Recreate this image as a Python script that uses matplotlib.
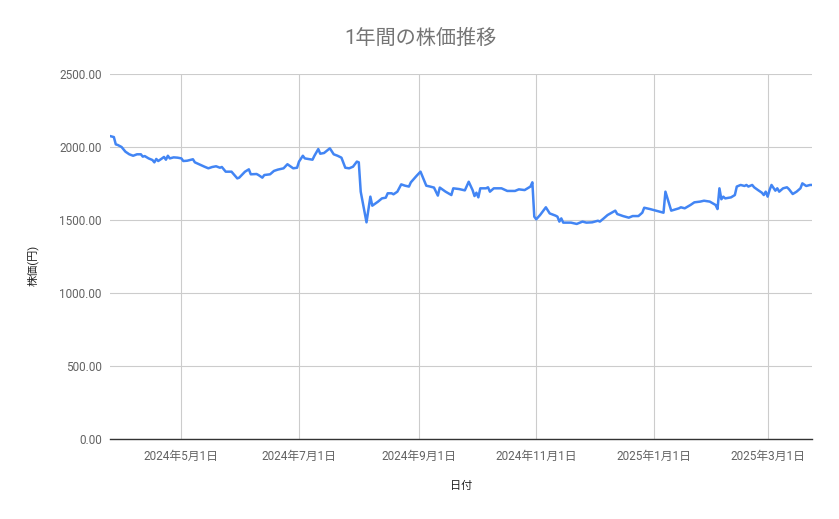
import matplotlib
matplotlib.use("Agg")
import matplotlib.pyplot as plt
import pandas as pd

plt.rcParams['font.family'] = ['Roboto', 'Noto Sans CJK JP', 'DejaVu Sans']

# ============================
#   データ
# ============================

dates = [
    "2024-03-25", "2024-03-27", "2024-03-28", "2024-03-29", "2024-03-31",
    "2024-04-02", "2024-04-04", "2024-04-06", "2024-04-08", "2024-04-10",
    "2024-04-11", "2024-04-12", "2024-04-14", "2024-04-16", "2024-04-17",
    "2024-04-18", "2024-04-19", "2024-04-21", "2024-04-22", "2024-04-23",
    "2024-04-24", "2024-04-25", "2024-04-27", "2024-04-29", "2024-05-01",
    "2024-05-02", "2024-05-04", "2024-05-07", "2024-05-08", "2024-05-11",
    "2024-05-13", "2024-05-15", "2024-05-17", "2024-05-19", "2024-05-21",
    "2024-05-22", "2024-05-24", "2024-05-27", "2024-05-30", "2024-05-31",
    "2024-06-03", "2024-06-05", "2024-06-06", "2024-06-09", "2024-06-10",
    "2024-06-12", "2024-06-13", "2024-06-16", "2024-06-18", "2024-06-20",
    "2024-06-23", "2024-06-25", "2024-06-28", "2024-06-30", "2024-07-01",
    "2024-07-03", "2024-07-04", "2024-07-08", "2024-07-09", "2024-07-11",
    "2024-07-12", "2024-07-14", "2024-07-17", "2024-07-19", "2024-07-21",
    "2024-07-23", "2024-07-25", "2024-07-27", "2024-07-29", "2024-07-31",
    "2024-08-01", "2024-08-02", "2024-08-05", "2024-08-07", "2024-08-08",
    "2024-08-11", "2024-08-13", "2024-08-15", "2024-08-16", "2024-08-18",
    "2024-08-19", "2024-08-21", "2024-08-23", "2024-08-25", "2024-08-27",
    "2024-08-28", "2024-08-31", "2024-09-02", "2024-09-05", "2024-09-07",
    "2024-09-09", "2024-09-11", "2024-09-12", "2024-09-15", "2024-09-18",
    "2024-09-19", "2024-09-22", "2024-09-25", "2024-09-27", "2024-09-29",
    "2024-09-30", "2024-10-01", "2024-10-02", "2024-10-03", "2024-10-06",
    "2024-10-07", "2024-10-08", "2024-10-10", "2024-10-14", "2024-10-17",
    "2024-10-21", "2024-10-23", "2024-10-26", "2024-10-29", "2024-10-30",
    "2024-10-31", "2024-11-01", "2024-11-03", "2024-11-06", "2024-11-08",
    "2024-11-11", "2024-11-12", "2024-11-13", "2024-11-14", "2024-11-15",
    "2024-11-19", "2024-11-22", "2024-11-25", "2024-11-27", "2024-11-30",
    "2024-12-03", "2024-12-04", "2024-12-06", "2024-12-08", "2024-12-11",
    "2024-12-12", "2024-12-13", "2024-12-16", "2024-12-19", "2024-12-21",
    "2024-12-24", "2024-12-26", "2024-12-27", "2024-12-30", "2025-01-02",
    "2025-01-06", "2025-01-07", "2025-01-10", "2025-01-14", "2025-01-15",
    "2025-01-17", "2025-01-20", "2025-01-22", "2025-01-25", "2025-01-27",
    "2025-01-30", "2025-02-02", "2025-02-03", "2025-02-04", "2025-02-05",
    "2025-02-06", "2025-02-07", "2025-02-10", "2025-02-12", "2025-02-13",
    "2025-02-15", "2025-02-17", "2025-02-18", "2025-02-19", "2025-02-21",
    "2025-02-22", "2025-02-24", "2025-02-26", "2025-02-27", "2025-02-28",
    "2025-03-01", "2025-03-02", "2025-03-03", "2025-03-05", "2025-03-06",
    "2025-03-07", "2025-03-09", "2025-03-11", "2025-03-12", "2025-03-14",
    "2025-03-16", "2025-03-18", "2025-03-19", "2025-03-21", "2025-03-23",
    "2025-03-24",
]

prices = [
    2075, 2068, 2018, 2014, 2000,
    1968, 1950, 1940, 1950, 1950,
    1934, 1938, 1922, 1911, 1895,
    1918, 1904, 1922, 1932, 1913,
    1940, 1922, 1929, 1927, 1922,
    1904, 1906, 1916, 1895, 1877,
    1865, 1854, 1863, 1868, 1858,
    1863, 1831, 1831, 1785, 1790,
    1831, 1847, 1813, 1815, 1808,
    1790, 1808, 1813, 1836, 1845,
    1854, 1882, 1854, 1858, 1900,
    1940, 1922, 1913, 1940, 1986,
    1954, 1959, 1991, 1950, 1940,
    1927, 1858, 1854, 1865, 1900,
    1895, 1694, 1484, 1660, 1598,
    1626, 1648, 1653, 1683, 1683,
    1676, 1694, 1744, 1735, 1729,
    1758, 1803, 1831, 1735, 1729,
    1722, 1667, 1722, 1694, 1671,
    1717, 1712, 1703, 1762, 1705,
    1664, 1687, 1655, 1717, 1717,
    1724, 1694, 1717, 1717, 1699,
    1699, 1710, 1705, 1729, 1758,
    1523, 1505, 1534, 1587, 1545,
    1530, 1523, 1489, 1511, 1482,
    1482, 1473, 1489, 1482, 1484,
    1495, 1489, 1511, 1534, 1557,
    1564, 1541, 1527, 1516, 1527,
    1527, 1550, 1584, 1575, 1564,
    1550, 1694, 1564, 1580, 1587,
    1580, 1603, 1621, 1626, 1632,
    1626, 1603, 1575, 1717, 1642,
    1660, 1648, 1655, 1671, 1729,
    1740, 1733, 1740, 1729, 1740,
    1724, 1705, 1687, 1671, 1694,
    1660, 1705, 1740, 1701, 1717,
    1694, 1717, 1724, 1712, 1678,
    1694, 1717, 1751, 1733, 1740,
    1740,
]

tick_dates = ["2024-05-01", "2024-07-01", "2024-09-01",
              "2024-11-01", "2025-01-01", "2025-03-01"]
tick_labels = ["2024年5月1日", "2024年7月1日", "2024年9月1日",
               "2024年11月1日", "2025年1月1日", "2025年3月1日"]
y_ticks = [0, 500, 1000, 1500, 2000, 2500]

# ============================
#   グラフ
# ============================

x = pd.to_datetime(dates)

fig = plt.figure(figsize=(8.39, 5.19), dpi=100)
ax = fig.add_axes([110 / 839, 1 - 439 / 519, 702 / 839, 365 / 519])

ax.plot(x, prices, color="#4285F4", linewidth=1.8, solid_joinstyle="round")

ax.set_xlim(x[0], x[-1])
ax.set_ylim(0, 2500)
ax.set_yticks(y_ticks)
ax.set_yticklabels([f"{v:.2f}" for v in y_ticks])
ax.set_xticks(pd.to_datetime(tick_dates))
ax.set_xticklabels(tick_labels)

ax.grid(True, color="#cccccc", linewidth=0.8)
ax.set_axisbelow(True)
for side in ["top", "right", "left"]:
    ax.spines[side].set_visible(False)
ax.spines["bottom"].set_color("#333333")
ax.spines["bottom"].set_linewidth(1.0)
ax.spines["bottom"].set_zorder(3)

ax.tick_params(axis="both", length=0, colors="#636363", labelsize=8.5)
ax.tick_params(axis="x", pad=8)
ax.tick_params(axis="y", pad=6)

fig.text(420 / 839, 1 - 38 / 519, "1年間の株価推移", ha="center", va="center",
         fontsize=14.5, color="#757575")
fig.text(461 / 839, 1 - 486 / 519, "日付", ha="center", va="center",
         fontsize=8, color="#222222")
fig.text(33 / 839, 1 - 265 / 519, "株価(円)", ha="center", va="center",
         rotation=90, fontsize=8, color="#222222")

fig.savefig("out.png", dpi=100)
